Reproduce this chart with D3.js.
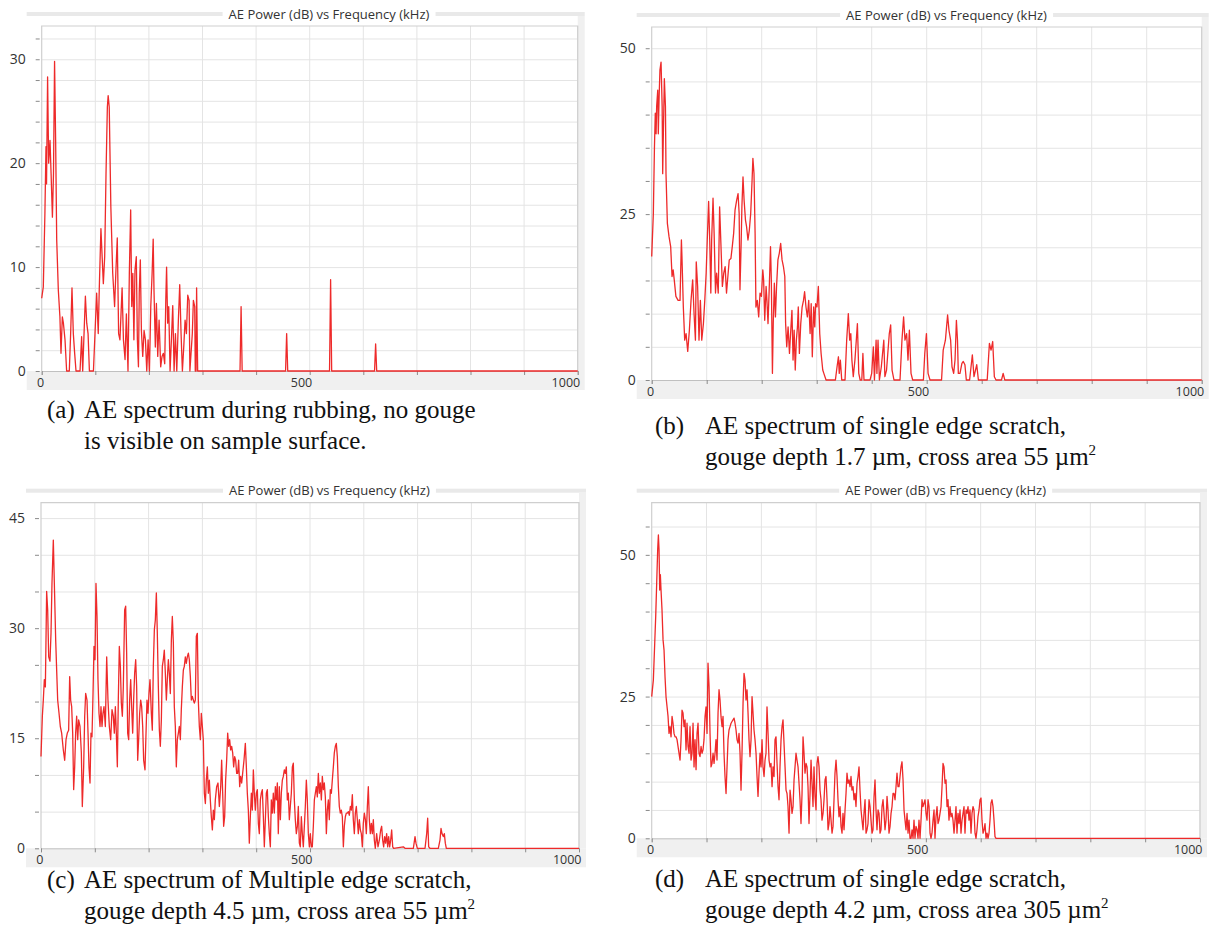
<!DOCTYPE html>
<html><head><meta charset="utf-8">
<script src="https://cdn.jsdelivr.net/npm/d3@7/dist/d3.min.js"></script>
<style>body{margin:0;background:#fff}svg{display:block}</style>
</head><body>
<svg id="chart" width="1211" height="947"></svg>
<script>
// ---------------- DATA ----------------
const chartTitle = "AE Power (dB) vs Frequency (kHz)";
const xTickLabels = [0, 500, 1000];
const yTicksA = [0, 10, 20, 30];
const yTicksB = [0, 25, 50];
const yTicksC = [0, 15, 30, 45];
const yTicksD = [0, 25, 50];

// [frequency kHz, AE power dB]
const specA = [[0,7],[3,8.1],[6,15.2],[8,21.6],[9,18],[11,28.3],[13,20],[15.5,22.2],[17.5,19],[20,14.8],[22,19],[24,29.8],[26,22.2],[28,12.6],[31,7.8],[34,5.2],[36,1.7],[38.5,5.2],[40.5,4.6],[43.5,3],[46.5,0],[51.5,0],[54,3.6],[56.5,8],[59,3.6],[61.5,1.7],[64,0],[71.5,0],[74.5,3.3],[76.5,0],[79,3.6],[81.5,7.2],[84,4.6],[86.5,3.6],[89,0],[96.5,0],[100,4.3],[102.5,7.5],[105.5,3.6],[107.5,8.1],[110.5,13.7],[112.5,11.3],[115,8.4],[117.5,11],[120,19],[122.5,25.4],[124,26.5],[126,25.4],[129,15.8],[132.5,9.4],[136,6.2],[138.5,9.7],[141,12.8],[143.5,3.6],[146,3],[150,8],[152.5,3],[155.5,1.1],[158,5.5],[161,0],[163.5,9.4],[166,15.5],[168,6.2],[170,9.4],[172,3],[174,9.7],[176.5,11],[178.5,3],[180.5,0.4],[182,7.5],[184,10.7],[186,3.9],[188.5,1.4],[191,3.9],[193.5,3],[196,0],[198.5,3],[201,0],[203.5,6.2],[206,9.4],[208,12.7],[209.5,7.8],[212,2.3],[214,6.5],[216.5,1.4],[219,4.9],[222,0.4],[224.5,1.4],[227,1.7],[229.5,0.7],[231.5,6.8],[233,10],[235,4.6],[237,6.2],[239.5,0],[242,3],[244.5,6.3],[247,0],[249.5,3.6],[252,0],[255,4.9],[257.5,8.3],[260,3.6],[262.5,0],[265,2.3],[267.5,4.9],[270,3.6],[272.5,7.3],[275,6.8],[276.5,0],[281,3.6],[283,6.8],[285.5,6.2],[286.5,0],[288,0],[289,8],[291,0],[370,0],[372,6.2],[374,0],[455,0],[457,3.6],[459,0],[537,0],[539,8.8],[541,0],[621,0],[623,2.6],[625,0],[1000,0]];

const specB = [[0,18.6],[3,25.1],[5,35.1],[6.5,40.2],[8,37.1],[9,41.2],[11,43.7],[12,37.1],[13.5,42.7],[15,46.7],[17,47.9],[19,41.2],[20,31.1],[21,36.1],[23,45.4],[25,41.2],[26,31.1],[28.5,23.6],[31.5,21.6],[34.5,20.1],[37,15.6],[39,16.6],[41,15.1],[44,12.6],[48,12],[51.5,12],[54,21.1],[55,18.6],[57.5,11],[60,6],[62.5,7],[65.5,4.3],[68.5,7.5],[71.5,12],[74.5,15.1],[77,10],[79.5,6],[81,17.8],[83.5,14.1],[86,6],[88.5,12],[91,6],[94,8.5],[96.5,12],[99,16.1],[101,21.1],[103.5,26.9],[105.5,21.1],[107.5,13.1],[109,21.1],[111.5,27.4],[113.5,22.1],[116,13.1],[118,16.1],[121,13.1],[123.5,26.1],[126,20.1],[128.5,14.1],[131,16.1],[133.5,17.1],[136,13.1],[138,15.1],[141,18.1],[144,18.3],[146.5,20.1],[149,22.1],[151.5,25.6],[154.5,27.1],[157,28.1],[159,25.1],[160.5,13.6],[162.5,20.1],[164,26.1],[166,30.6],[168,27.1],[170.5,24.1],[172.5,23.1],[175,21.1],[177.5,22.6],[180,25.1],[182.5,30.1],[184,33.4],[186,31.1],[188,22.1],[189.5,11],[192,12],[194.5,9.5],[197,13.1],[199.5,12.6],[202,16.6],[203.5,15.1],[205.5,9],[208,14.1],[209.5,12],[211.5,8.5],[214,14.6],[216,20.1],[217.5,15.1],[219.5,1],[221,8.5],[223,14.6],[225,9.5],[227,14.1],[229.5,18.1],[232,19.1],[234.5,20.6],[237,18.1],[239.5,17.1],[242,15.6],[243.5,8.5],[245.5,5],[248,8],[250.5,4],[252.5,7],[255,10.5],[257,3],[259,7.5],[261,1.5],[263,6],[265,8],[266.5,11],[268.5,4],[271,8.5],[273.5,11],[276,12],[278,13.3],[280.5,11],[283,9.5],[285.5,12],[288,7],[290,11.5],[292,3.5],[294.5,11],[296.5,8],[298,11.5],[300.5,11],[303,14.1],[305.5,7],[308,4],[311,1.5],[313,1],[317,0],[334,0],[337,2],[339.5,3.5],[341,1],[343,3],[345.5,0],[351.5,0],[354.5,6],[357.5,10],[360,6],[362,7],[364,3],[366.5,0.5],[369.5,3],[372,6],[374,8.5],[376.5,1],[379,0],[382,0],[384,4],[386,0],[397,0],[400,1],[403,5],[405,0],[408,6],[409.5,1],[411.5,6],[414,0],[417.5,2],[422,6],[424,0.5],[427,1.5],[432,7],[434.5,8.3],[437,1.5],[440.5,0],[451.5,0],[455,6],[458,9.5],[460.5,6],[463.5,7],[466,3],[468.5,7.5],[471.5,1],[474.5,0],[494,0],[496.5,4],[499.5,7],[502.5,1],[506,0],[527,0],[530,4.5],[534,6],[538,9.8],[540.5,7.5],[543.5,6],[546,2],[549,1],[551.5,3],[554,9],[556,6],[557.5,1],[560.5,1],[564,2.5],[566.5,2.8],[569.5,2.3],[572,0],[578,0],[583,3.8],[586,0.5],[591,2.3],[594,0],[610,0],[614,5.5],[617,4.5],[620,5.8],[623,0.5],[626,0],[636,0],[639,1],[642,0],[1000,0]];

const specC = [[0,12.5],[2.5,18],[4.3,20.2],[6.2,23],[8.1,22],[10.5,35],[12.4,32.5],[14.3,26.1],[16.7,25.5],[18.6,29.3],[20.4,36.1],[22.9,42],[24.8,36.1],[27.3,28.4],[29.1,24.3],[31,20.2],[33.5,18.4],[35.9,16.6],[38.4,15.7],[41.5,13.4],[44,12],[46.5,14.8],[48.9,15.7],[51.4,16.1],[53.3,23.4],[55.1,20.2],[57,19.3],[58.9,15.7],[60.7,8],[62.6,11.1],[64.4,15.7],[66.3,18],[68.2,14.8],[70,17.5],[72.5,16.6],[75,13],[76.8,5.7],[79.3,11.1],[81.2,18],[83,21.1],[85.5,20.2],[87.4,15.7],[89.2,11.1],[91.1,8.9],[92.9,15.7],[94.8,15.2],[96.7,21.1],[98.5,27.5],[100.4,25.7],[102.2,36.1],[104.1,31.6],[105.9,23],[107.8,18.4],[109.7,16.6],[111.5,19.3],[113.4,16.6],[115.2,18.4],[117.1,19.3],[119.6,16.6],[122.1,26.1],[124.5,20.2],[127,16.6],[129.5,14.8],[132,18.9],[134.4,18],[136.3,15.7],[138.2,19.3],[140,15.7],[141.9,11.1],[143.7,20.2],[145.6,27.5],[147.5,24.8],[149.3,19.8],[151.2,18],[153,22],[155.5,32.5],[157.4,33],[159.2,26.6],[161.1,15.7],[163,14.8],[164.8,20.2],[166.7,23],[168.5,19.3],[170.4,15.7],[172.2,20.2],[174.1,23.9],[176,25.7],[177.8,22],[179.7,12],[181.5,14.8],[183.4,18.4],[185.3,20.2],[187.1,19.3],[189,16.6],[190.8,12],[193.3,10.7],[195.2,15.7],[197,20.2],[198.9,18.4],[200.7,21.1],[202.6,23],[205.1,18.4],[206.9,16.1],[208.8,24.8],[210.7,29.8],[212.5,31.1],[214.4,34.8],[216.2,29.3],[218.1,22],[220,16.1],[221.8,13.9],[223.7,17.5],[225.5,24.8],[227.4,25.7],[229.2,27],[231.1,23.9],[233,20.2],[234.8,23],[236.7,25.7],[238.5,23.9],[240.4,21.1],[242.3,28.4],[244.1,31.6],[246,28],[247.8,19.3],[249.7,16.6],[251.5,11.1],[253.4,14.8],[255.3,15.7],[257.1,16.6],[259,14.8],[260.8,18.9],[262.7,22],[264.6,24.3],[266.4,24.8],[268.3,26.1],[270.1,25.2],[272,26.1],[273.9,26.6],[275.7,25.7],[277.6,23.4],[279.4,20.2],[281.3,20.7],[283.1,20.2],[285,19.8],[286.9,20.2],[288.7,28.9],[290.6,29.3],[292.4,20.2],[294.3,16.6],[296.2,14.8],[298,18.4],[299.9,16.6],[301.7,14.8],[303.6,7.5],[305.5,6.1],[307.3,9.3],[309.2,11.1],[311,7.5],[312.9,9.3],[314.7,6.6],[316.6,4.3],[318.5,2.5],[320.3,5.2],[322.2,3.9],[324,6.6],[326.5,8.4],[329,8.9],[331.5,5.7],[334,8.4],[335.8,12],[337.7,7.5],[339.5,3],[341.4,4.3],[343.2,9.3],[345.1,12],[347,15.7],[348.8,13.9],[350.7,14.8],[352.5,13.4],[354.4,13.9],[356.3,13],[358.1,11.1],[360,12.5],[361.8,12],[363.7,10.2],[365.5,10.2],[367.4,12],[369.3,8.4],[371.1,9.8],[373,8.9],[374.8,10.2],[377.3,12],[379.8,14.3],[381.7,11.1],[383.5,7.5],[385.4,5.2],[387.2,0.7],[389.1,4.3],[391,7.5],[392.8,5.2],[394.7,10.7],[396.5,7.5],[398.4,5.2],[400.2,7.5],[402.1,8],[404,3.4],[405.8,2],[407.7,6.6],[409.5,7.5],[411.4,8],[413.3,4.3],[415.1,0.2],[417,3.9],[418.8,7.5],[420.7,8],[422.6,4.3],[424.4,2],[426.3,0.2],[428.1,6.6],[430,4.8],[431.8,7.5],[433.7,4.8],[435.6,8.4],[437.4,6.6],[439.3,8.9],[441.1,2],[443,8.4],[444.9,3.9],[446.7,7.5],[448.6,9.3],[450.4,9.8],[452.3,10.7],[454.2,10.2],[456,11.1],[457.9,6.6],[459.7,7.5],[461.6,3.9],[463.4,5.7],[465.3,7.5],[467.2,11.1],[469,11.6],[470.9,6.6],[472.7,3.9],[474.6,2],[476.5,3],[478.3,5.7],[480.2,0.7],[482,0.2],[483.9,4.3],[485.7,2],[487.6,0.2],[489.5,3],[491.3,5.7],[493.2,9.3],[495,6.6],[496.9,2],[498.8,0.2],[500.6,2],[502.5,0.2],[504.3,0.2],[506.2,3],[508.1,6.6],[509.9,7.5],[511.8,8.4],[513.6,7],[515.5,10.2],[517.3,7.5],[519.2,8.9],[521.1,6.6],[522.9,9.8],[524.8,8],[526.6,8.9],[528.5,7],[530.4,2],[532.2,5.2],[534.1,6.6],[535.9,3.9],[537.8,8],[539.7,7.5],[541.5,9.3],[543.4,11.1],[545.2,13],[547.1,13.9],[548.9,14.3],[550.8,12.5],[552.7,8.4],[554.5,5.7],[556.4,4.8],[558.2,5.2],[560.1,4.3],[562,0.2],[563.8,3],[565.7,4.3],[567.5,4.8],[569.4,4.8],[571.3,5],[573.1,4.5],[575,5.7],[576.8,5.2],[578.7,7.3],[580.5,3.9],[582.4,2],[584.3,4.8],[586.1,5.7],[588,3.9],[589.8,2],[591.7,3.9],[593.6,2.5],[595.4,2],[597.3,0.2],[599.1,3.4],[601,4.8],[602.9,3.9],[604.7,2],[606.6,5.7],[608.4,8.4],[610.3,3.9],[612.1,2],[614,3.4],[615.9,2],[617.7,3.9],[619.6,1.1],[621.4,0],[623.9,2],[626.4,0.2],[628.9,1.1],[631.4,2.5],[633.2,3],[635.1,1.1],[636.9,0.2],[638.8,1.6],[640.6,0.7],[642.5,2],[644.4,0.2],[646.2,1.6],[648.1,0.2],[649.9,1.1],[651.8,2.5],[653.7,0.2],[655.5,0],[673.5,0.2],[676.6,0],[692.1,0],[695.2,1.6],[697,0.7],[699.5,0],[713.8,0],[716.9,2],[718.7,4.1],[720.6,0.2],[723,0],[738.5,0],[741.6,1.1],[743.5,2.7],[745.4,2],[747.8,1.6],[749.7,2],[751.5,0.7],[753.4,0],[1000,0]];

const specD = [[0,25],[3,27.9],[5.5,34.4],[7.3,39.1],[9.1,45],[10.9,50.9],[12.2,53.5],[13.4,50.9],[14.6,43.8],[15.8,46.5],[17,43.8],[18.8,40.3],[20.7,35],[22.5,33.2],[24.3,28.5],[26.1,25],[28,23.2],[29.8,21.5],[31.6,18.5],[33.4,19.7],[35.3,17.9],[37.1,21.5],[38.9,20.3],[40.7,18.5],[42.6,17.9],[44.4,17.9],[46.2,17.4],[48,16.2],[49.8,15],[51.7,13.8],[53.5,17.4],[55.3,22.6],[57.1,22.1],[59,19.7],[60.8,20.9],[62.6,15.6],[64.4,20.3],[66.3,16.2],[68.1,15],[69.9,19.7],[71.7,13.8],[73.6,15],[75.4,20.3],[77.2,12.6],[79,17.4],[80.9,12.1],[82.7,18.5],[84.5,20.3],[86.3,15],[88.1,14.4],[90,16.2],[91.8,15],[93.6,15.6],[95.4,17.4],[97.3,21.5],[99.1,23.2],[100.9,18.5],[102.7,30.9],[104.6,26.8],[106.4,18.5],[108.2,12.6],[110,13.2],[111.9,15],[113.7,13.2],[115.5,15],[117.3,17.4],[119.1,13.8],[121,22.1],[122.8,26.2],[124.6,24.4],[126.4,21.5],[128.3,19.7],[130.1,21.5],[131.9,15],[133.7,10.9],[135.6,7.9],[137.4,12.6],[139.2,17.4],[141,19.1],[142.9,19.7],[144.7,20.3],[146.5,20.6],[148.3,20.9],[150.2,21.2],[152,20.3],[153.8,19.1],[155.6,17.4],[157.4,16.8],[159.3,18.5],[161.1,15],[162.9,8.5],[164.7,15],[166.6,23.8],[168.4,29.1],[170.2,27.9],[172,24.4],[173.9,26.2],[175.7,22.1],[177.5,17.4],[179.3,14.4],[181.2,17.4],[183,25],[184.8,22.1],[186.6,19.1],[188.4,17.4],[190.3,15],[192.1,10.9],[193.9,7.4],[195.7,11.5],[197.6,15],[199.4,12.6],[201.2,17.4],[203,12.6],[204.9,10.9],[206.7,13.8],[208.5,15],[210.3,23.2],[212.2,18.5],[214,13.8],[215.8,12.6],[217.6,13.2],[219.5,9.1],[221.3,12.6],[223.1,10.9],[224.9,17.4],[226.7,17.9],[228.6,13.2],[230.4,9.1],[232.2,6.8],[234,12.6],[235.9,17.4],[237.7,19.7],[239.5,20.9],[241.3,16.8],[243.2,12.6],[245,8.5],[246.8,7.9],[248.6,5.6],[250.5,0.9],[252.3,8.5],[254.1,6.8],[255.9,4.4],[257.8,5.6],[259.6,10.3],[261.4,12.6],[263.2,15],[265,13.8],[266.9,12.6],[268.7,9.7],[270.5,6.8],[272.3,2.6],[274.2,7.9],[276,17.9],[277.8,15],[279.6,11.5],[281.5,13.2],[283.3,12.6],[285.1,9.1],[286.9,2.6],[288.8,7.9],[290.6,13.8],[292.4,9.7],[294.2,5.6],[296,12.6],[297.9,7.4],[299.7,5],[301.5,13.2],[303.3,14.4],[305.2,12.6],[307,8.5],[308.8,6.8],[310.6,3.2],[312.5,4.4],[314.3,6.8],[316.1,10.3],[317.9,10.9],[319.8,6.8],[321.6,1.5],[323.4,2.6],[325.2,5.6],[327.1,3.2],[328.9,0.9],[330.7,2.1],[332.5,6.8],[334.3,11.5],[336.2,13.8],[338,10.9],[339.8,6.8],[341.6,3.8],[343.5,5.6],[345.3,2.1],[347.1,0.9],[348.9,4.4],[350.8,1.5],[352.6,5],[354.4,7.9],[356.2,11.5],[358.1,9.7],[359.9,10.3],[361.7,9.1],[363.5,10.9],[365.3,8.5],[367.2,9.1],[369,6.8],[370.8,7.9],[372.6,5.6],[374.5,9.7],[376.3,10.9],[378.1,12.6],[379.9,8.5],[381.8,5],[383.6,3.2],[385.4,1.5],[387.2,4.4],[389.1,6.8],[390.9,0.9],[392.7,1.5],[394.5,2.6],[396.4,6.8],[398.2,5.6],[400,3.2],[401.8,0.9],[403.6,1.5],[405.5,7.4],[407.3,10.3],[409.1,5],[410.9,1.5],[412.8,5],[414.6,4.4],[416.4,0.9],[418.2,1.5],[420.1,5.6],[421.9,6.8],[423.7,4.4],[425.5,1.5],[427.4,3.2],[429.2,7.4],[431,5],[432.8,0.9],[434.7,2.1],[436.5,4.4],[438.3,5.6],[440.1,7.9],[441.9,7.9],[443.8,6.8],[445.6,9.1],[447.4,11.5],[449.2,9.1],[451.1,9.1],[452.9,10.9],[454.7,12.6],[456.5,13.5],[458.4,10.3],[460.2,5],[462,3.2],[463.8,1.5],[465.7,4.4],[467.5,0.9],[469.3,3.2],[471.1,0],[473,0],[474.8,1.5],[476.6,0],[478.4,3.2],[480.2,0],[482.1,2.1],[483.9,1.5],[485.7,0],[487.5,3.2],[489.4,0],[491.2,3.2],[493,6.8],[494.8,5.6],[496.7,6.2],[498.5,6.8],[500.3,4.4],[502.1,3.2],[504,6.8],[505.8,5.6],[507.6,0.9],[509.4,0],[511.2,0.9],[513.1,3.2],[514.9,5],[516.7,0],[518.5,3.8],[520.4,5.6],[522.2,2.6],[524,3.2],[525.8,4.4],[527.7,5.6],[529.5,9.1],[531.3,13.2],[533.1,12.6],[535,9.7],[536.8,10.3],[538.6,5.6],[540.4,6.8],[542.2,3.2],[544.1,5.6],[545.9,3.8],[547.7,4.4],[549.5,3.2],[551.4,0.9],[553.2,3.2],[555,5.6],[556.8,0.9],[558.7,4.4],[560.5,2.6],[562.3,5],[564.1,0.9],[566,3.2],[567.8,4.4],[569.6,5.6],[571.4,0.9],[573.3,5],[575.1,4.4],[576.9,5.6],[578.7,3.2],[580.5,5],[582.4,0.9],[584.2,4.4],[586,5.6],[587.8,5],[589.7,0.9],[591.5,0],[593.3,1.5],[595.1,3.8],[597,5],[598.8,6.8],[600.6,7.1],[602.4,3.2],[604.3,0.9],[606.1,1.5],[607.9,2.6],[609.7,0],[611.6,0.9],[613.4,0],[615.2,0.9],[617,3.2],[618.8,6.2],[620.7,6.8],[622.5,5.6],[624.3,3.2],[626.1,0.3],[628,0],[1000,0]];

const captionA = ["(a)", "AE spectrum during rubbing, no gouge", "is visible on sample surface.", ""];
const captionB = ["(b)", "AE spectrum of single edge scratch,", "gouge depth 1.7 \u00b5m, cross area 55 \u00b5m", "2"];
const captionC = ["(c)", "AE spectrum of Multiple edge scratch,", "gouge depth 4.5 \u00b5m, cross area 55 \u00b5m", "2"];
const captionD = ["(d)", "AE spectrum of single edge scratch,", "gouge depth 4.2 \u00b5m, cross area 305 \u00b5m", "2"];

// ---------------- LAYOUT ----------------
const panels = [
  {spec: specA, yTicks: yTicksA, minor: 2, yMax: 33.2, L: 41.7, R: 577.7, T: 26, B: 371,
   caption: captionA, cap: {lx: 47, tx: 84, y1: 418, y2: 449}},
  {spec: specB, yTicks: yTicksB, minor: 5, yMax: 53.2, L: 651.7, R: 1201.7, T: 27, B: 380,
   caption: captionB, cap: {lx: 655, tx: 705, y1: 434, y2: 465}},
  {spec: specC, yTicks: yTicksC, minor: 5, yMax: 47.1, L: 41, R: 579, T: 502.7, B: 848.3,
   caption: captionC, cap: {lx: 47, tx: 84, y1: 888, y2: 919}},
  {spec: specD, yTicks: yTicksD, minor: 5, yMax: 59.2, L: 651.7, R: 1200, T: 502.7, B: 838.3,
   caption: captionD, cap: {lx: 655, tx: 705, y1: 887, y2: 918}}
];

const svg = d3.select("#chart");
const SANS = "'Open Sans', 'Noto Sans', sans-serif";
const SERIF = "'Liberation Serif', 'Times New Roman', serif";

panels.forEach(p => {
  const g = svg.append("g");
  const x = d3.scaleLinear().domain([0, 1000]).range([p.L, p.R]);
  const y = d3.scaleLinear().domain([0, p.yMax]).range([p.B, p.T]);
  const W = p.R - p.L;

  // widget frame
  g.append("rect").attr("x", p.L - 15).attr("y", p.T - 14).attr("width", W + 22).attr("height", 4).attr("fill", "#e9e9e9");
  g.append("rect").attr("x", p.L - 15).attr("y", p.B).attr("width", W + 22).attr("height", 19).attr("fill", "#f0f0f0");
  g.append("rect").attr("x", p.R).attr("y", p.T - 10).attr("width", 7).attr("height", p.B - p.T + 10).attr("fill", "#f0f0f0");
  g.append("rect").attr("x", p.L).attr("y", p.T).attr("width", W).attr("height", p.B - p.T).attr("fill", "#fff");

  // grid
  const minorVals = d3.range(0, p.yMax + 0.001, p.minor);
  g.append("g").selectAll("line").data(minorVals.filter(v => v > 0)).join("line")
    .attr("x1", p.L).attr("x2", p.R).attr("y1", d => y(d) + 0.5).attr("y2", d => y(d) + 0.5)
    .attr("stroke", "#e4e4e4").attr("stroke-width", 1);
  const xGrid = d3.range(100, 1001, 100);
  g.append("g").selectAll("line").data(xGrid).join("line")
    .attr("x1", d => x(d)).attr("x2", d => x(d)).attr("y1", p.T).attr("y2", p.B)
    .attr("stroke", "#e4e4e4").attr("stroke-width", 1);

  // plot border
  g.append("path").attr("d", `M${p.L},${p.B}V${p.T}H${p.R}V${p.B}`)
    .attr("fill", "none").attr("stroke", "#cfcfcf").attr("stroke-width", 1.2);

  // y axis
  const yAxis = d3.axisLeft(y).tickValues(minorVals).tickSize(4).tickPadding(10)
    .tickFormat(d => p.yTicks.includes(d) ? d : "");
  const ya = g.append("g").attr("transform", `translate(${p.L - 2},0)`).call(yAxis);
  ya.select(".domain").remove();
  ya.selectAll("line").attr("stroke", "#8a8a8a");
  ya.selectAll("text").attr("font-family", SANS).attr("font-size", 14).attr("fill", "#333");

  // x axis
  const xAxis = d3.axisBottom(x).tickValues(d3.range(0, 1001, 100)).tickSize(4).tickPadding(3)
    .tickFormat(d => xTickLabels.includes(d) ? d : "");
  const xa = g.append("g").attr("transform", `translate(0,${p.B})`).call(xAxis);
  xa.select(".domain").attr("stroke", "#c0c0c0");
  xa.selectAll("line").attr("stroke", "#8a8a8a");
  xa.selectAll("text").attr("font-family", SANS).attr("font-size", 12.5).attr("fill", "#333")
    .attr("text-anchor", "end").attr("dx", 2);

  // spectrum line
  const line = d3.line().x(d => x(d[0])).y(d => y(d[1]));
  g.append("path").datum(p.spec).attr("d", line)
    .attr("fill", "none").attr("stroke", "#ee2a2a").attr("stroke-width", 1.3)
    .attr("stroke-linejoin", "round");

  // title (white box behind)
  const tx = p.L + 0.536 * W, ty = p.T - 12;
  const tbox = g.append("rect").attr("fill", "#fff");
  const t = g.append("text").attr("x", tx).attr("y", ty).attr("dy", "0.35em")
    .attr("text-anchor", "middle").attr("font-family", SANS).attr("font-size", 13)
    .attr("fill", "#333").text(chartTitle);
  const bb = t.node().getBBox();
  tbox.attr("x", bb.x - 6).attr("y", p.T - 16).attr("width", bb.width + 12).attr("height", 8);

  // caption
  const c = p.caption;
  const cg = svg.append("g").attr("font-family", SERIF).attr("font-size", 25).attr("fill", "#111");
  cg.append("text").attr("x", p.cap.lx).attr("y", p.cap.y1).text(c[0]);
  cg.append("text").attr("x", p.cap.tx).attr("y", p.cap.y1).text(c[1]);
  const l2 = cg.append("text").attr("x", p.cap.tx).attr("y", p.cap.y2).text(c[2]);
  if (c[3]) l2.append("tspan").attr("font-size", 15).attr("dy", -10).text(c[3]);
});
</script>
</body></html>
